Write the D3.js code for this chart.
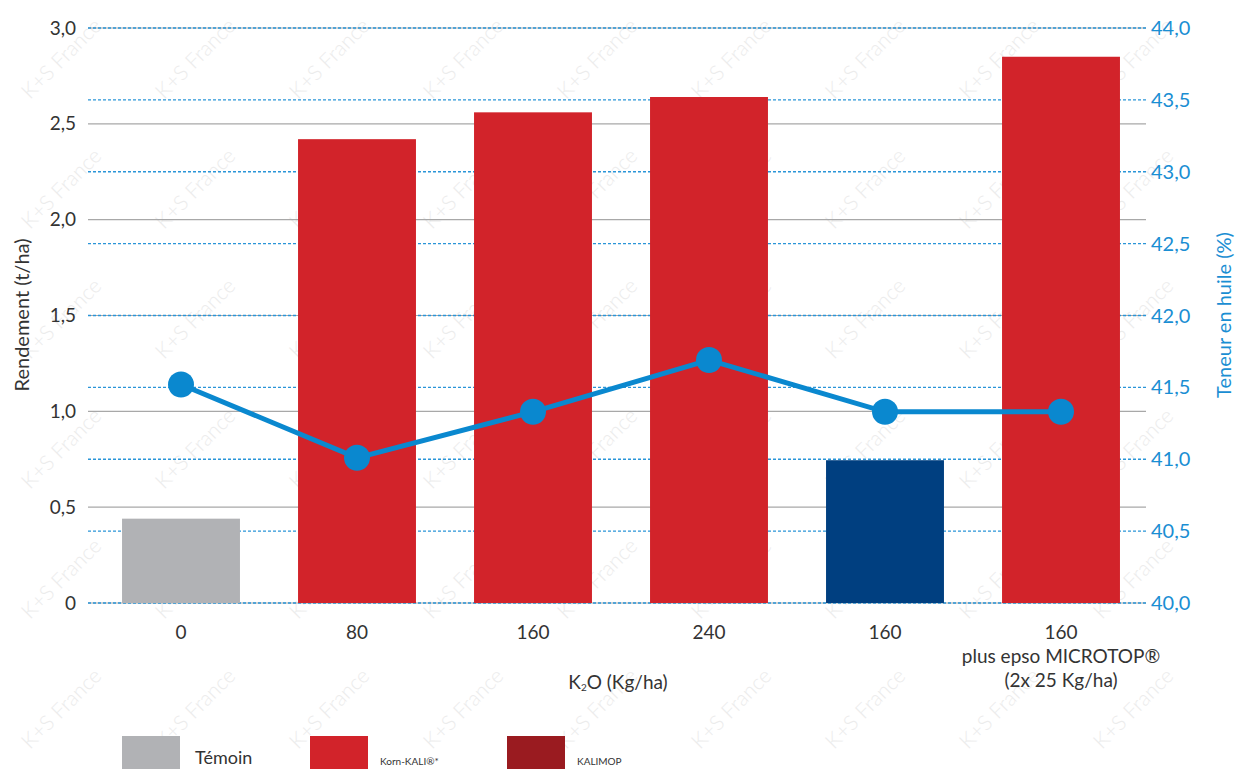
<!DOCTYPE html>
<html>
<head>
<meta charset="utf-8">
<script src="https://cdn.jsdelivr.net/npm/d3@7"></script>
<style>
  body { margin: 0; background: #fff; }
  svg { display: block; font-family: Lato, "Open Sans", sans-serif; }
</style>
</head>
<body>
<script>
// -----------------------------
// Data
// -----------------------------
const categories = ["0", "80", "160a", "240", "160b", "160c"];
const categoryLabels = [["0"], ["80"], ["160"], ["240"], ["160"], ["160", "plus epso MICROTOP®", "(2x 25 Kg/ha)"]];
const yieldValues = [0.44, 2.42, 2.56, 2.64, 0.745, 2.85];
const barTypes = ["temoin", "korn", "korn", "korn", "other", "korn"];
const oilValues = [41.52, 41.01, 41.33, 41.69, 41.33, 41.33];
const leftTicks = [0, 0.5, 1.0, 1.5, 2.0, 2.5, 3.0];
const rightTicks = [40.0, 40.5, 41.0, 41.5, 42.0, 42.5, 43.0, 43.5, 44.0];
const legendItems = [
  { key: "temoin", label: "Témoin" },
  { key: "korn", label: "Korn-KALI®*" },
  { key: "kalimop", label: "KALIMOP" }
];

// -----------------------------
// SVG Setup
// -----------------------------
const WIDTH = 1236;
const HEIGHT = 769;
const PLOT = { left: 88, right: 1146, top: 28, bottom: 603 };

const COLORS = {
  temoin: "#b1b2b5",
  korn: "#d2232a",
  kalimop: "#9a1b20",
  other: "#003f80",
  line: "#0a88cf",
  text: "#333333",
  rightText: "#1a8ed3"
};

const svg = d3.select("body")
  .append("svg")
  .attr("width", WIDTH)
  .attr("height", HEIGHT)
  .attr("viewBox", `0 0 ${WIDTH} ${HEIGHT}`);

// Watermark "K+S France" pattern (only full copies inside the frame)
const wm = svg.append("g").attr("class", "watermark");
for (let gx = 30; gx + 85 < WIDTH; gx += 134) {
  for (let gy = 100; gy < HEIGHT - 5; gy += 130) {
    wm.append("text")
      .attr("transform", `translate(${gx},${gy}) rotate(-45)`)
      .attr("font-size", 21)
      .attr("font-weight", 300)
      .attr("fill", "#ececec")
      .text("K+S France");
  }
}

// -----------------------------
// Scales
// -----------------------------
const x = d3.scaleBand()
  .domain(categories)
  .range([93, 1149])
  .paddingInner(0.33)
  .paddingOuter(0.165);

const yLeft = d3.scaleLinear()
  .domain([0, 3])
  .range([PLOT.bottom, PLOT.top]);

const yRight = d3.scaleLinear()
  .domain([40, 44])
  .range([PLOT.bottom, PLOT.top]);

const fmt = d => d === 0 ? "0" : d3.format(".1f")(d).replace(".", ",");

// -----------------------------
// Grid lines
// -----------------------------
svg.append("g")
  .selectAll("line")
  .data(leftTicks)
  .join("line")
  .attr("x1", PLOT.left)
  .attr("x2", PLOT.right)
  .attr("y1", d => yLeft(d))
  .attr("y2", d => yLeft(d))
  .attr("stroke", "#a8a8a8")
  .attr("stroke-width", 1.2);

svg.append("g")
  .selectAll("line")
  .data(rightTicks)
  .join("line")
  .attr("x1", PLOT.left)
  .attr("x2", PLOT.right)
  .attr("y1", d => yRight(d))
  .attr("y2", d => yRight(d))
  .attr("stroke", "#2a95d8")
  .attr("stroke-width", 1.3)
  .attr("stroke-dasharray", "3,2");

// -----------------------------
// Bars
// -----------------------------
svg.append("g")
  .selectAll("rect")
  .data(categories)
  .join("rect")
  .attr("x", d => x(d))
  .attr("width", x.bandwidth())
  .attr("y", (d, i) => yLeft(yieldValues[i]))
  .attr("height", (d, i) => yLeft(0) - yLeft(yieldValues[i]))
  .attr("fill", (d, i) => COLORS[barTypes[i]]);

// -----------------------------
// Oil content line
// -----------------------------
const line = d3.line()
  .x((d, i) => x(categories[i]) + x.bandwidth() / 2)
  .y(d => yRight(d));

svg.append("path")
  .datum(oilValues)
  .attr("d", line)
  .attr("fill", "none")
  .attr("stroke", COLORS.line)
  .attr("stroke-width", 5);

svg.append("g")
  .selectAll("circle")
  .data(oilValues)
  .join("circle")
  .attr("cx", (d, i) => x(categories[i]) + x.bandwidth() / 2)
  .attr("cy", d => yRight(d))
  .attr("r", 13)
  .attr("fill", COLORS.line);

// -----------------------------
// Axes labels
// -----------------------------
svg.append("g")
  .selectAll("text")
  .data(leftTicks)
  .join("text")
  .attr("x", 76)
  .attr("y", d => yLeft(d))
  .attr("dy", "0.35em")
  .attr("text-anchor", "end")
  .attr("font-size", 19)
  .attr("fill", COLORS.text)
  .text(fmt);

svg.append("g")
  .selectAll("text")
  .data(rightTicks)
  .join("text")
  .attr("x", 1151)
  .attr("y", d => yRight(d))
  .attr("dy", "0.35em")
  .attr("font-size", 20)
  .attr("fill", COLORS.rightText)
  .text(fmt);

svg.append("text")
  .attr("transform", "translate(29,315) rotate(-90)")
  .attr("text-anchor", "middle")
  .attr("font-size", 20)
  .attr("fill", COLORS.text)
  .text("Rendement (t/ha)");

svg.append("text")
  .attr("transform", "translate(1231,315) rotate(-90)")
  .attr("text-anchor", "middle")
  .attr("font-size", 20)
  .attr("fill", COLORS.rightText)
  .text("Teneur en huile (%)");

// Category labels
const catText = svg.append("g")
  .selectAll("text")
  .data(categories)
  .join("text")
  .attr("x", d => x(d) + x.bandwidth() / 2)
  .attr("y", 639)
  .attr("text-anchor", "middle")
  .attr("font-size", 19)
  .attr("fill", COLORS.text);

catText.each(function(d, i) {
  const t = d3.select(this);
  categoryLabels[i].forEach((s, j) => {
    t.append("tspan")
      .attr("x", x(d) + x.bandwidth() / 2)
      .attr("dy", j === 0 ? 0 : 24)
      .text(s);
  });
});

// X axis title with subscript
const xTitle = svg.append("text")
  .attr("x", 618)
  .attr("y", 689)
  .attr("text-anchor", "middle")
  .attr("font-size", 19)
  .attr("fill", COLORS.text);
xTitle.append("tspan").text("K");
xTitle.append("tspan").attr("font-size", 10).attr("dy", 2).text("2");
xTitle.append("tspan").attr("dy", -2).text("O (Kg/ha)");

// -----------------------------
// Legend
// -----------------------------
const legendX = [122, 310, 507];
const legend = svg.append("g")
  .selectAll("g")
  .data(legendItems)
  .join("g")
  .attr("transform", (d, i) => `translate(${legendX[i]},736)`);

legend.append("rect")
  .attr("width", 58)
  .attr("height", 40)
  .attr("fill", d => COLORS[d.key]);

legend.append("text")
  .attr("x", (d, i) => i === 0 ? 73 : 70)
  .attr("y", (d, i) => i === 0 ? 28 : 29)
  .attr("font-size", (d, i) => i === 0 ? 18 : 10)
  .attr("fill", COLORS.text)
  .text(d => d.label);
</script>
</body>
</html>
